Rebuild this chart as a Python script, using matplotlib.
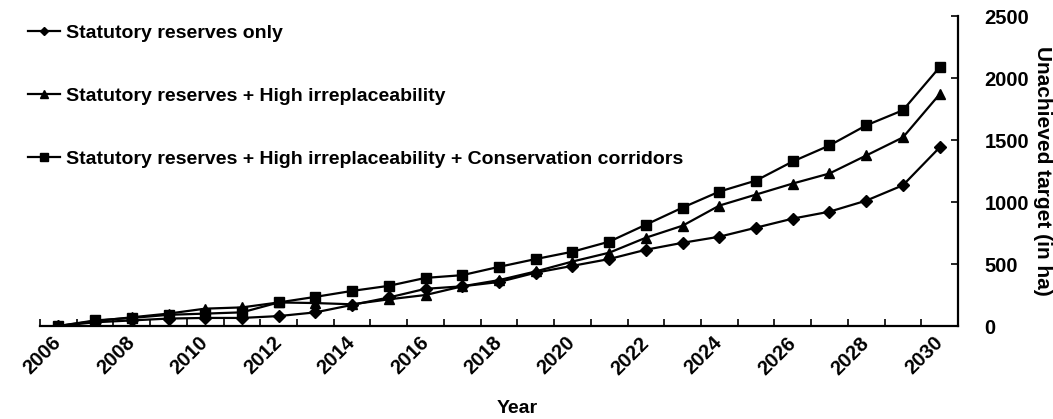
import matplotlib
matplotlib.use("Agg")
import matplotlib.pyplot as plt
import numpy as np

plt.rcParams["font.family"] = ["Liberation Sans", "DejaVu Sans"]
plt.rcParams["font.weight"] = "bold"

years = list(range(2006, 2031))

statutory = [0, 30, 45, 60, 65, 65, 80, 110, 170, 230, 300, 320, 355, 430,
             485, 540, 615, 671, 720, 793, 866, 922, 1011, 1135, 1440]
high_irr = [0, 40, 70, 100, 140, 150, 190, 185, 175, 215, 250, 320, 370, 440,
            520, 591, 712, 809, 971, 1060, 1149, 1230, 1375, 1521, 1869]
corridors = [0, 45, 65, 90, 100, 110, 190, 235, 283, 324, 388, 410, 477, 540,
             599, 680, 817, 955, 1084, 1173, 1327, 1456, 1618, 1740, 2087]

labels = [
    "Statutory reserves only",
    "Statutory reserves + High irreplaceability",
    "Statutory reserves + High irreplaceability + Conservation corridors",
]

fig = plt.figure(figsize=(10.53, 4.19), dpi=100)
ax = fig.add_axes([40 / 1053, 1 - 326 / 419, 918 / 1053, 310 / 419])

x = np.arange(len(years))
ax.plot(x, statutory, color="black", lw=1.6, marker="D", ms=6, label=labels[0])
ax.plot(x, high_irr, color="black", lw=1.6, marker="^", ms=7.5, label=labels[1])
ax.plot(x, corridors, color="black", lw=1.6, marker="s", ms=7.5, label=labels[2])

ax.set_xlim(-0.5, len(years) - 0.5)
ax.set_ylim(0, 2500)

# category-style x axis: ticks at boundaries, labels every second year
ax.set_xticks(x[::2])
ax.set_xticklabels([str(y) for y in years[::2]], rotation=45, ha="right",
                   va="center", rotation_mode="anchor", fontsize=14.5, fontweight="bold")
ax.tick_params(axis="x", which="major", length=0, pad=10)
ax.set_xticks(np.arange(-0.5, len(years)), minor=True)
ax.tick_params(axis="x", which="minor", direction="in", length=5, width=1.2)

ax.yaxis.tick_right()
ax.yaxis.set_label_position("right")
ax.set_yticks(np.arange(0, 2501, 500))
ax.tick_params(axis="y", direction="in", length=5, width=1.2, pad=19, labelsize=14.5)
for t in ax.get_yticklabels():
    t.set_fontweight("bold")

for side in ("left", "top"):
    ax.spines[side].set_visible(False)
for side in ("bottom", "right"):
    ax.spines[side].set_linewidth(1.6)

ax.set_ylabel("Unachieved target (in ha)", rotation=270, fontsize=15,
              fontweight="bold")
ax.yaxis.set_label_coords(1.1025, 0.5)
ax.set_xlabel("Year", fontsize=14, fontweight="bold", va="center")
ax.xaxis.set_label_coords(0.52, -0.265)

ax.legend(loc="upper left", bbox_to_anchor=(28 / 1053, 1 - 24 / 419),
          bbox_transform=fig.transFigure, frameon=False, borderpad=0,
          borderaxespad=0, handlelength=1.65, handletextpad=0.3,
          labelspacing=2.35, prop={"size": 14, "weight": "bold"},
          markerscale=0.7)

fig.savefig("out.png", dpi=100)
